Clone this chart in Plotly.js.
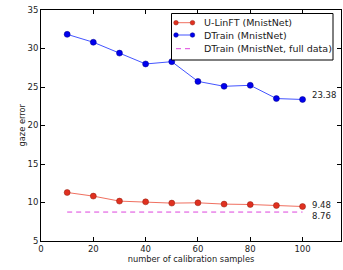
<!DOCTYPE html>
<html><head><meta charset="utf-8">
<script src="https://cdn.plot.ly/plotly-3.0.1.min.js"></script>
<style>body{margin:0;padding:0;background:#fff}#c{width:343px;height:270px}</style>
</head><body><div id="c"></div>
<script>
const samples = [10,20,30,40,50,60,70,80,90,100];
const ulinft = [11.3,10.83,10.18,10.09,9.92,9.96,9.79,9.74,9.61,9.48];
const dtrain = [31.84,30.81,29.4,27.99,28.29,25.73,25.09,25.22,23.5,23.38];
const fullData = 8.76;
const fullX = [10,100];
const seriesNames = ['U-LinFT (MnistNet)','DTrain (MnistNet)','DTrain (MnistNet, full data)'];
const endLabels = ['23.38','9.48','8.76'];

const W = 343, H = 270, M = {l:41, r:2, t:10, b:29};
const pw = W - M.l - M.r, ph = H - M.t - M.b;
const px = x => (x - M.l) / pw;
const py = y => 1 - (y - M.t) / ph;

const tickFont = {family:'DejaVu Sans', size:8.5, color:'#222'};
const titleFont = {family:'DejaVu Sans', size:8.3, color:'#222'};
const styles = [
  {line:{color:'#f07060', width:1}, marker:{color:'#e03020', size:6, line:{color:'#902010', width:0.5}}},
  {line:{color:'#4455ff', width:1}, marker:{color:'#0000ee', size:6, line:{color:'#000088', width:0.5}}},
  {line:{color:'#dd44dd', width:1, dash:'5px,4px'}}
];
const traces = [
  Object.assign({x:samples, y:ulinft, name:seriesNames[0], mode:'lines+markers'}, styles[0]),
  Object.assign({x:samples, y:dtrain, name:seriesNames[1], mode:'lines+markers'}, styles[1]),
  Object.assign({x:fullX, y:fullX.map(()=>fullData), name:seriesNames[2], mode:'lines'}, styles[2])
];

// custom compact legend (matplotlib-like)
const shapes = [];
const annotations = [];
shapes.push({type:'rect', xref:'paper', yref:'paper', x0:px(171.5), x1:px(333), y0:py(60), y1:py(13.5),
  line:{color:'#000', width:1}, fillcolor:'#fff', layer:'above'});
const rowY = [22.7, 35, 48.7];
seriesNames.forEach((n,i)=>{
  const s = styles[i];
  shapes.push({type:'line', xref:'paper', yref:'paper', x0:px(176), x1:px(193), y0:py(rowY[i]), y1:py(rowY[i]),
    line:{color:s.line.color, width:1, dash:s.line.dash||'solid'}, layer:'above'});
  if (s.marker) {
    [176,192.5].forEach(cx=>{
      shapes.push({type:'circle', xref:'paper', yref:'paper', x0:px(cx-2.3), x1:px(cx+2.3), y0:py(rowY[i]+2.3), y1:py(rowY[i]-2.3),
        fillcolor:s.marker.color, line:{color:s.marker.line.color, width:0.5}, layer:'above'});
    });
  }
  annotations.push({xref:'paper', yref:'paper', x:px(201.5), y:py(rowY[i]), text:n, showarrow:false,
    xanchor:'left', yanchor:'middle', font:{family:'DejaVu Sans', size:9.5, color:'#1a1a1a'}});
});
// end-value labels
const endY = [dtrain[dtrain.length-1], ulinft[ulinft.length-1], fullData];
const endShift = [4, 2, -3.5];
endLabels.forEach((t,i)=>{
  annotations.push({x:samples[samples.length-1], y:endY[i], xref:'x', yref:'y', text:t, showarrow:false,
    xanchor:'left', yanchor:'middle', xshift:7, yshift:endShift[i], font:tickFont});
});
// y-axis title placed like the reference
annotations.push({xref:'paper', yref:'paper', x:px(21), y:py(125.5), text:'gaze error', textangle:-90,
  showarrow:false, xanchor:'center', yanchor:'middle', font:titleFont});

const ax = {showgrid:false, zeroline:false, showline:true, linecolor:'#000', linewidth:1, mirror:'allticks',
  ticks:'inside', ticklen:4, tickcolor:'#000', tickfont:tickFont};
const layout = {
  width:W, height:H, margin:M,
  paper_bgcolor:'#fff', plot_bgcolor:'#fff', font:tickFont, showlegend:false,
  xaxis:Object.assign({}, ax, {range:[0,114.7], tickvals:[0,20,40,60,80,100],
    title:{text:'number of calibration samples', font:titleFont, standoff:2}}),
  yaxis:Object.assign({}, ax, {range:[5,35], tickvals:[5,10,15,20,25,30,35]}),
  shapes:shapes, annotations:annotations
};
Plotly.newPlot('c', traces, layout, {displayModeBar:false, staticPlot:true});
</script></body></html>
